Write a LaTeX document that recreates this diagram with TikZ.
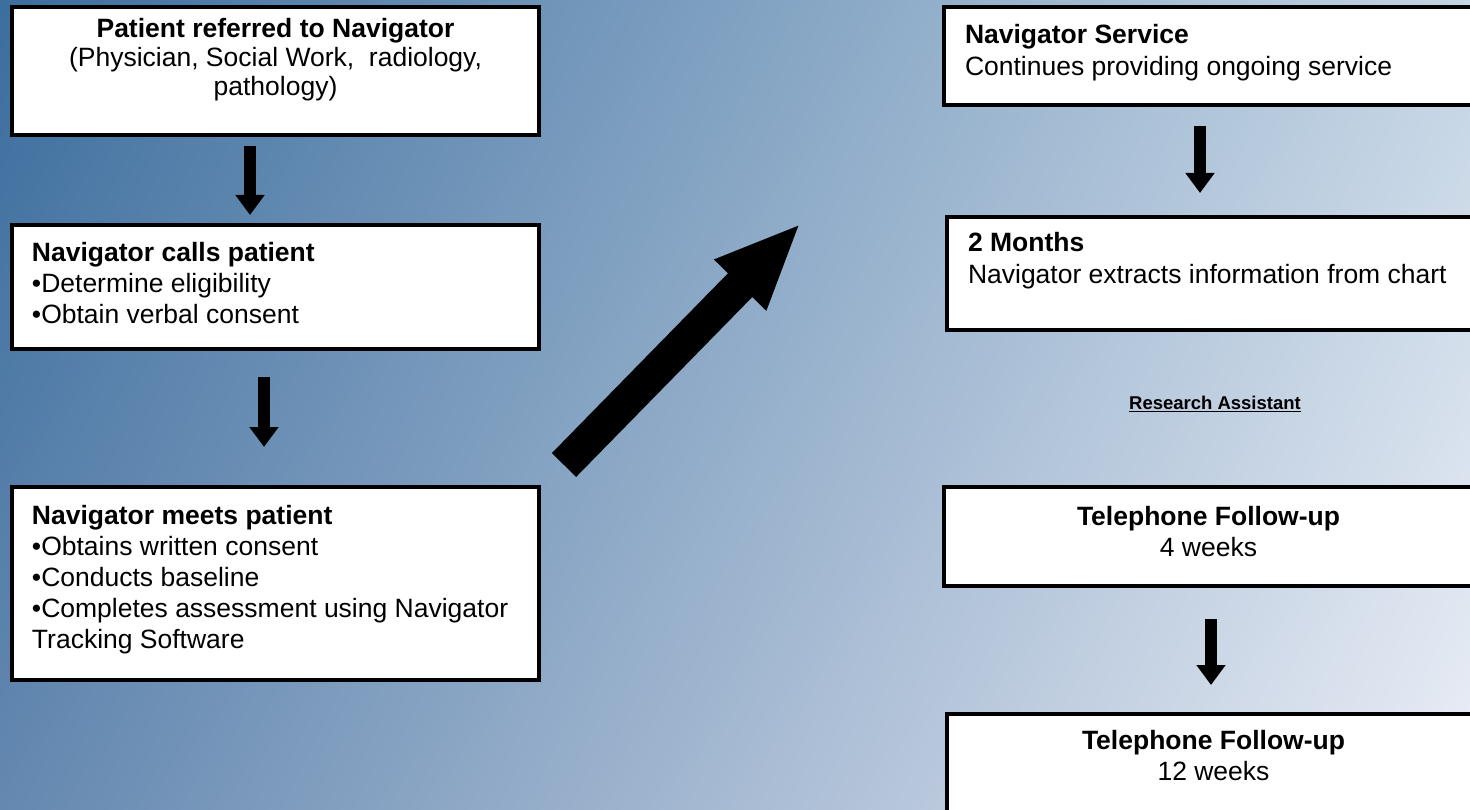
\documentclass[tikz,border=0pt]{standalone}
\usepackage{fontspec}
\setmainfont{Liberation Sans}
\usetikzlibrary{arrows.meta}
% background: path box is mapped to [25bp,75bp]^2 of the shading
\pgfdeclarefunctionalshading{bgfn}{\pgfpoint{0bp}{0bp}}{\pgfpoint{100bp}{100bp}}{}{
 75 exch sub 50 div exch 25 sub 50 div
 2 copy 135 mul exch 40 mul add 60 add 255 div
 3 1 roll
 2 copy 102 mul exch 26 mul add 110 add 255 div
 3 1 roll
 70 mul exch 18 mul add 158 add 255 div
}
% width, height, first baseline offset, line pitch, alignment, content
\newcommand{\boxtxt}[6]{\begin{minipage}[t][#2][t]{#1}\fontsize{26.5}{#4}\selectfont#5\rule{0pt}{#3}#6\end{minipage}}
\begin{document}
\begin{tikzpicture}[x=1pt,y=-1pt,
  box/.style={draw=black, line width=4pt, fill=white, inner sep=0pt, anchor=north west},
  downarrow/.style={line width=12.5pt, -{Triangle[width=28pt,length=20pt]}},
  bigarrow/.style={line width=34pt, -{Triangle[width=66pt,length=87pt]}}]
\useasboundingbox (0,0) rectangle (1470,810);
\shade[shading=bgfn] (0,0) rectangle (1470,810);

% left column
\node[box] (b1) at (10,5) {\boxtxt{527pt}{128pt}{31pt}{29pt}{\centering}{\textbf{Patient referred to Navigator}\\(Physician, Social Work, \ radiology,\\pathology)}};
\node[box] (b2) at (10,223) {\boxtxt{527pt}{124pt}{37pt}{31pt}{\raggedright\leftskip=20pt\relax}{\textbf{Navigator calls patient}\\•Determine eligibility\\•Obtain verbal consent}};
\node[box] (b3) at (10,485) {\boxtxt{527pt}{193pt}{37pt}{31pt}{\raggedright\leftskip=20pt\relax}{\textbf{Navigator meets patient}\\•Obtains written consent\\•Conducts baseline\\•Completes assessment using Navigator\\Tracking Software}};

% right column
\node[box] (bA) at (942,5) {\boxtxt{529pt}{98pt}{37pt}{32pt}{\raggedright\leftskip=21pt\relax}{\textbf{Navigator Service}\\Continues providing ongoing service}};
\node[box] (bB) at (945,215) {\boxtxt{528pt}{113pt}{35pt}{32pt}{\raggedright\leftskip=21pt\relax}{\textbf{2 Months}\\Navigator extracts information from chart}};
\node (ra) at (1215,404) {\fontsize{18.5}{22}\selectfont\underline{\textbf{Research Assistant}}};
\node[box] (bC) at (942,485) {\boxtxt{529pt}{99pt}{38pt}{31pt}{\centering}{\textbf{Telephone Follow-up}\\4 weeks}};
\node[box] (bD) at (945,712) {\boxtxt{533pt}{118pt}{35pt}{31pt}{\centering}{\textbf{Telephone Follow-up}\\12 weeks}};

% arrows
\draw[downarrow] ([xshift=-25.5pt,yshift=-9pt]b1.south) -- ([xshift=-25.5pt,yshift=8pt]b2.north);
\draw[downarrow] ([xshift=-11.5pt,yshift=-26pt]b2.south) -- ([xshift=-11.5pt,yshift=38pt]b3.north);
\draw[bigarrow] ([xshift=23pt,yshift=20pt]b3.north east) -- ([xshift=-141pt,yshift=-218pt]bA.north west);
\draw[downarrow] ([xshift=-8.5pt,yshift=-19pt]bA.south) -- ([xshift=-11pt,yshift=22pt]bB.north);
\draw[downarrow] ([xshift=2.5pt,yshift=-31pt]bC.south) -- ([xshift=-2.5pt,yshift=27pt]bD.north);
\end{tikzpicture}
\end{document}
